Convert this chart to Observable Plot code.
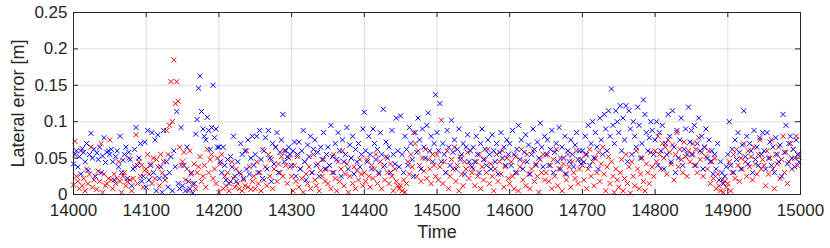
<!DOCTYPE html>
<html><head><meta charset="utf-8">
<script src="https://cdn.jsdelivr.net/npm/d3@7"></script>
<script src="https://cdn.jsdelivr.net/npm/@observablehq/plot@0.6"></script>
<style>
body{margin:0;background:#fff}
#chart svg [aria-label="x-axis tick label"] text,
#chart svg [aria-label="y-axis tick label"] text{font-size:17px}
#chart svg [aria-label="x-axis label"] text,
#chart svg [aria-label="y-axis label"] text{font-size:18px}
</style>
</head><body><div id="chart"></div>
<script>
// Sample times: start and step (time units)
const tStart = 14000, tStep = 2;
// Lateral error, blue series (millimetres), one value per sample
const blueMM = [
42,55,60,38,52,28,63,58,45,70,33,55,84,50,62,25,57,48,65,30,53,78,44,58,60,
55,62,45,20,52,60,38,80,30,47,55,65,22,58,48,12,35,62,92,40,50,70,18,25,72,
10,88,20,40,85,30,75,5,82,22,38,3,88,25,45,10,30,52,5,60,38,114,15,8,92,
12,40,5,65,18,8,30,2,15,83,103,146,163,114,90,80,75,106,88,62,92,150,78,90,65,
65,45,30,65,40,20,48,15,52,38,80,25,18,45,30,70,55,22,60,35,75,28,50,80,40,
55,80,30,88,48,22,60,78,35,88,50,18,70,42,65,85,30,58,75,110,45,60,52,65,55,
40,60,72,25,55,72,35,60,88,45,20,68,52,80,30,62,75,40,58,25,65,48,85,35,55,
65,40,95,52,30,70,48,85,60,25,75,45,55,92,35,68,50,80,28,62,45,70,38,55,90,
113,60,45,80,55,35,90,70,48,62,30,85,55,117,40,72,50,65,30,88,55,42,105,60,38,
108,55,30,80,62,40,92,70,48,25,85,58,105,75,35,90,65,50,95,112,60,80,45,70,137,
85,60,125,45,70,55,30,88,65,40,102,58,75,35,62,90,48,55,70,28,65,82,45,60,38,
65,45,80,55,30,70,90,48,62,40,75,55,35,82,60,45,70,28,58,85,50,65,40,75,55,
70,40,88,55,30,62,95,48,75,35,58,82,45,68,28,55,90,62,40,72,50,98,65,38,80,
55,75,40,62,88,30,58,70,45,92,35,65,50,80,28,60,45,75,55,38,68,85,48,60,42,
60,45,80,55,95,40,70,100,50,85,65,35,105,75,55,110,90,60,115,80,145,95,70,115,100,
85,122,60,105,75,122,45,115,90,55,100,80,65,120,95,50,70,130,110,85,60,78,100,88,55,
75,100,40,85,60,95,35,70,55,110,80,45,115,65,30,88,50,75,105,40,62,90,55,120,72,
88,55,95,40,70,105,60,80,35,65,90,50,75,45,60,28,55,35,70,20,45,30,15,25,38,
55,100,40,62,30,75,48,85,58,35,68,115,52,80,42,70,60,30,88,48,65,40,78,55,85,
60,35,85,50,72,40,65,30,78,55,45,68,25,110,58,95,42,70,80,50,62,38,75,55,45
];
// Lateral error, red series (millimetres), one value per sample
const redMM = [
13,73,25,18,8,60,12,22,5,35,15,28,65,10,20,25,7,32,18,70,3,28,12,15,22,
75,20,8,28,15,22,45,18,3,25,30,12,18,50,20,5,22,38,82,15,45,25,40,10,33,
35,55,28,42,15,50,22,48,38,12,55,30,45,20,88,55,95,155,100,185,125,155,128,65,40,
45,58,20,35,5,60,28,15,42,8,30,38,52,18,25,40,10,62,30,48,55,22,35,15,50,
3,42,55,8,25,12,30,5,18,45,22,10,35,15,8,28,5,20,12,60,10,38,7,18,25,
8,45,15,30,5,62,20,38,12,55,25,48,8,35,65,18,42,30,52,25,60,40,15,50,38,
25,5,40,18,52,10,35,22,3,45,28,15,38,8,30,55,20,12,42,5,33,25,48,18,35,
15,40,8,30,55,22,5,45,18,35,60,12,28,42,3,25,50,15,38,8,33,20,48,28,12,
30,18,48,25,10,40,22,35,55,15,28,45,8,38,20,52,30,15,42,25,5,35,18,12,8,
12,5,20,3,15,45,28,55,38,85,70,25,60,40,18,50,32,62,22,48,35,15,55,40,25,
55,20,38,102,15,45,30,60,8,25,48,35,65,18,40,5,52,28,12,45,35,58,22,40,30,
35,12,45,25,55,8,38,20,48,30,62,15,42,25,5,35,55,18,45,28,60,10,38,50,22,
15,45,25,8,52,30,5,38,62,20,45,12,55,28,8,35,60,18,42,25,3,48,30,55,20,
30,55,18,40,8,48,25,62,12,35,50,5,42,28,20,55,38,10,45,30,22,60,15,35,48,
40,20,55,8,35,62,25,45,12,50,30,58,18,42,65,28,5,38,52,15,45,25,3,35,20,
10,30,48,5,22,55,15,38,2,45,25,12,60,35,8,28,50,18,5,42,30,15,58,38,25,
60,45,80,55,35,70,50,65,28,75,58,42,68,20,55,85,38,62,48,30,72,52,25,60,45,
55,70,40,62,30,78,48,58,25,65,52,35,60,15,45,22,50,8,28,12,5,20,3,18,10,
15,45,5,30,55,22,62,40,18,50,35,70,45,25,60,38,52,20,65,42,28,55,75,35,48,
40,12,60,28,50,75,35,8,55,42,65,22,48,80,30,58,15,45,70,35,62,50,80,40,55
];
const xTicks = [14000,14100,14200,14300,14400,14500,14600,14700,14800,14900,15000];
const yTicks = [0,0.05,0.1,0.15,0.2,0.25];

const toRows = arr => arr.map((v, i) => ({t: tStart + i * tStep, e: v / 1000}));
const blueRows = toRows(blueMM);
const redRows = toRows(redMM);

const axisColor = "#262626";
const chart = Plot.plot({
  width: 830, height: 248,
  marginLeft: 73, marginRight: 30, marginTop: 12, marginBottom: 54,
  style: {fontFamily: "'Liberation Sans', Arial, Helvetica, sans-serif", fontSize: "17px", color: axisColor, background: "#fff"},
  x: {domain: [14000, 15000]},
  y: {domain: [0, 0.25]},
  marks: [
    Plot.gridX(xTicks, {stroke: axisColor, strokeOpacity: 0.15}),
    Plot.gridY(yTicks, {stroke: axisColor, strokeOpacity: 0.15}),
    Plot.dot(redRows, {x: "t", y: "e", symbol: "times", r: 2.4, stroke: "#ff0000", strokeWidth: 1}),
    Plot.dot(blueRows, {x: "t", y: "e", symbol: "times", r: 2.4, stroke: "#0000ff", strokeWidth: 1}),
    Plot.tickX(xTicks, {x: d => d, insetTop: 177, stroke: axisColor}),
    Plot.tickX(xTicks, {x: d => d, insetBottom: 177, stroke: axisColor}),
    Plot.tickY(yTicks, {y: d => d, insetRight: 722, stroke: axisColor}),
    Plot.tickY(yTicks, {y: d => d, insetLeft: 722, stroke: axisColor}),
    Plot.frame({stroke: axisColor}),
    Plot.axisX(xTicks, {tickSize: 0, tickPadding: 9, tickFormat: d => String(d), label: "Time", labelAnchor: "center", labelArrow: "none", labelOffset: 43}),
    Plot.axisY(yTicks, {tickSize: 0, tickPadding: 6, tickFormat: d => String(d), label: "Lateral error [m]", labelAnchor: "center", labelArrow: "none", labelOffset: 62})
  ]
});
document.getElementById("chart").appendChild(chart);
</script>
</body></html>
